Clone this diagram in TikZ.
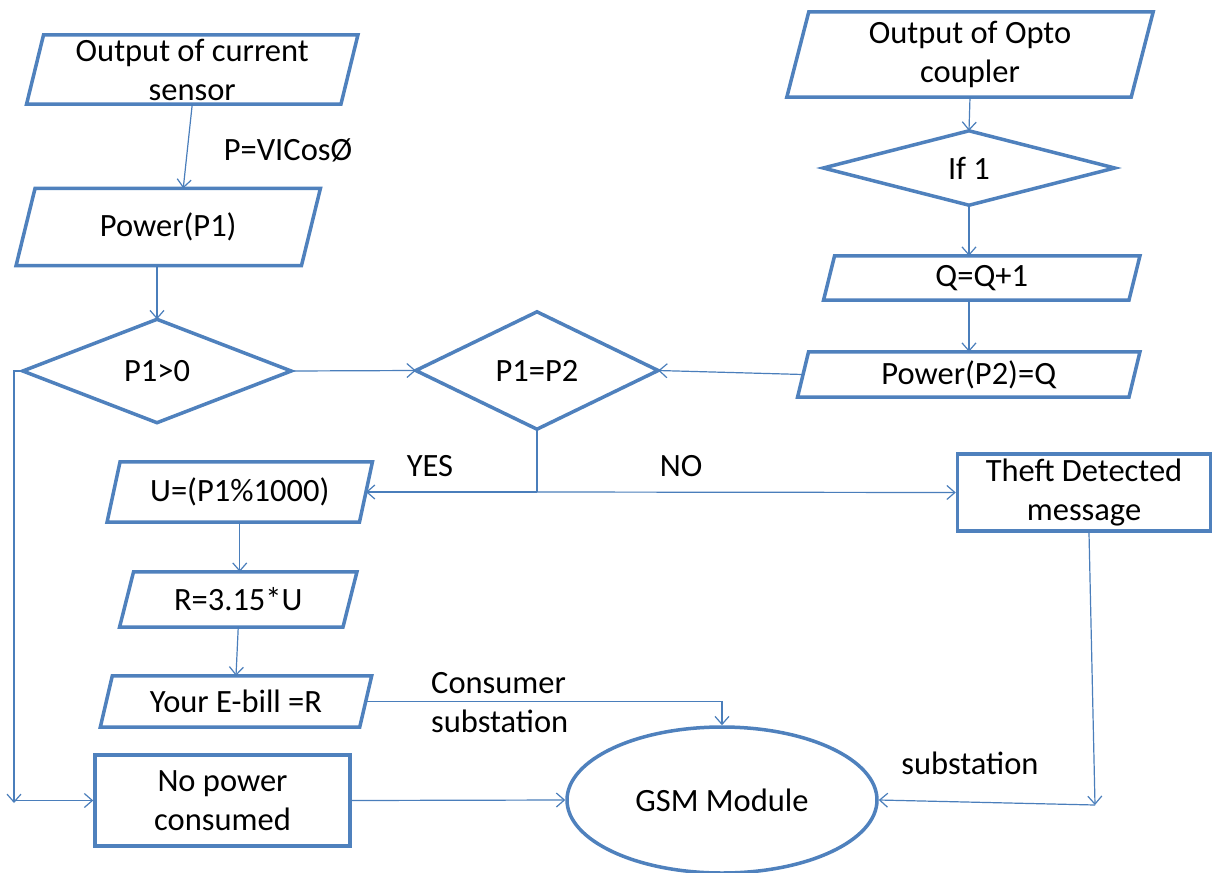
\documentclass[tikz,border=0pt]{standalone}
\usepackage{fontspec}
\setmainfont{Carlito}
\usetikzlibrary{arrows.meta,shapes.geometric,calc}
\definecolor{shp}{HTML}{4F81BD}
\definecolor{cn}{HTML}{4A7EBB}
\tikzset{
 box/.style={draw=none, inner sep=0pt, align=center, font=\fontsize{32.5}{39}\selectfont},
 outline/.style={draw=shp, line width=3.5pt, line join=miter},
 conn/.style={draw=cn, line width=1.2pt, -{Straight Barb[length=8pt,width=14pt]}},
 plain/.style={draw=cn, line width=1.2pt},
 lbl/.style={font=\fontsize{32.5}{39}\selectfont, align=center, inner sep=0pt},
}
\newcommand\pgram[7]{%
 \node[box, minimum width=#4pt, minimum height=#5pt] (#1) at (#2,#3) {#7};
 \draw[outline] ($(#1.north west)+(#6/2,0)$) -- ($(#1.north east)+(#6/2,0)$) -- ($(#1.south east)-(#6/2,0)$) -- ($(#1.south west)-(#6/2,0)$) -- cycle;}
\begin{document}
\begin{tikzpicture}[x=1pt,y=-1pt]
\useasboundingbox[fill=white] (0,0) rectangle (1216,873);
% parallelograms
\pgram{cur}{192.25}{69.5}{314}{69}{17}{Output of current\\sensor}
\pgram{pow}{168.25}{227}{285}{77}{19}{Power(P1)}
\pgram{opto}{970}{54.5}{344}{85}{22}{Output of Opto\\coupler}
\pgram{q}{981.75}{278}{305}{44}{11}{Q=Q+1}
\pgram{ptwo}{968.75}{374.5}{331}{45}{11}{Power(P2)=Q}
\pgram{u}{239.75}{492}{252}{60}{13}{U=(P1\%1000)}
\pgram{r}{238.25}{599.5}{223}{55}{14}{R=3.15*U}
\pgram{bill}{236}{701.5}{259}{51}{12}{Your E-bill =R}
% diamonds
\node[box, minimum width=268pt, minimum height=103pt] (d1) at (157,371) {P1>0};
\draw[outline] (d1.west)--(d1.north)--(d1.east)--(d1.south)--cycle;
\node[box, minimum width=242pt, minimum height=117pt] (d2) at (537,370.5) {P1=P2};
\draw[outline] (d2.west)--(d2.north)--(d2.east)--(d2.south)--cycle;
\node[box, minimum width=291pt, minimum height=74pt] (if1) at (969,168) {If 1};
\draw[outline] (if1.west)--(if1.north)--(if1.east)--(if1.south)--cycle;
% rectangles and ellipse
\node[box, outline, minimum width=255pt, minimum height=91pt] (np) at (222.5,800.5) {No power\\consumed};
\node[box, outline, minimum width=253pt, minimum height=77pt] (theft) at (1084,492.5) {Theft Detected\\message};
\node[box, outline, ellipse, minimum width=310pt, minimum height=146pt] (gsm) at (722,800) {GSM Module};
% labels
\node[lbl] (lv) at (288,150) {P=VICosØ};
\node[lbl] (ly) at (430,466) {YES};
\node[lbl] (ln) at (681,466) {NO};
\node[lbl, align=left, anchor=west] (lcs) at (431,703) {Consumer\\substation};
\node[lbl] (ls) at (970,763) {substation};
% connectors
\draw[conn] (cur.south) -- ([xshift=15pt]pow.north);
\draw[conn] (d1.north |- pow.south) -- (d1.north);
\draw[conn] (d1.east) -- (d2.west);
\draw[conn] (ptwo.west) -- (d2.east);
\coordinate (split) at (d2.south |- u.east);
\draw[plain] (d2.south) -- (split);
\draw[conn] (split) -- (u.east);
\draw[conn] (split) -- (theft.west);
\draw[conn] (opto.south) -- (if1.north);
\draw[conn] (if1.south) -- (if1.south |- q.north);
\draw[conn] (if1.south |- q.south) -- (if1.south |- ptwo.north);
\draw[conn] (u.south) -- (u.south |- r.north);
\draw[conn] (r.south) -- (bill.north);
\draw[conn] (bill.east) -- (gsm.north |- bill.east) -- (gsm.north);
\draw[conn] (np.east) -- (gsm.west);
\coordinate (tc) at (1095,805);
\draw[conn] ([xshift=5pt]theft.south) -- (tc);
\draw[conn] (tc) -- (gsm.east);
\coordinate (lc) at (14,371);
\coordinate (lb) at (14,803);
\draw[conn] (d1.west) -- (lc) -- (lb);
\draw[conn] (lc |- np.west) -- (np.west);
\end{tikzpicture}
\end{document}
